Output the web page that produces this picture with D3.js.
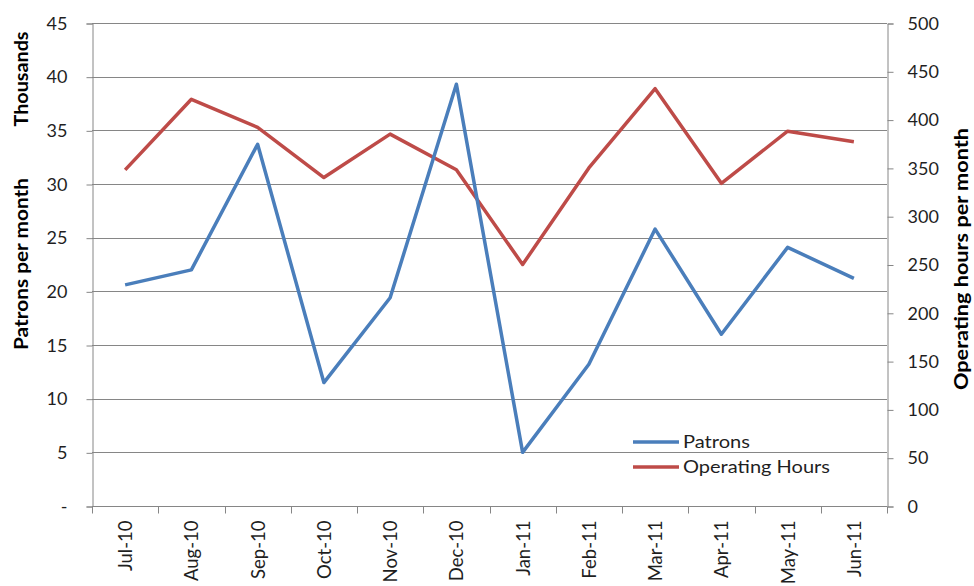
<!DOCTYPE html>
<html>
<head>
<meta charset="utf-8">
<script src="https://cdn.jsdelivr.net/npm/d3@7"></script>
<style>
  body { margin: 0; background: #fff; }
  text { font-family: Lato, "Open Sans", sans-serif; }
</style>
</head>
<body>
<script>
var width = 974
var height = 586

// data
var months = ["Jul-10", "Aug-10", "Sep-10", "Oct-10", "Nov-10", "Dec-10",
              "Jan-11", "Feb-11", "Mar-11", "Apr-11", "May-11", "Jun-11"]
var patrons = [20.6, 22.0, 33.7, 11.5, 19.4, 39.3, 5.0, 13.2, 25.8, 16.0, 24.1, 21.2]
var hours = [348, 421, 392, 340, 385, 348, 250, 350, 432, 334, 388, 377]
var leftTicks = [0, 5, 10, 15, 20, 25, 30, 35, 40, 45]
var rightTicks = [0, 50, 100, 150, 200, 250, 300, 350, 400, 450, 500]

var blue = "#4a7ebb"
var red = "#be4b48"
var grid = "#868686"
var ink = "#1f1f1f"

var m = {left: 92, right: 974 - 887, top: 23, bottom: 586 - 506}

var svg = d3.select("body").append("svg")
    .attr("width", width)
    .attr("height", height)

var x = d3.scaleBand().domain(months).range([m.left, width - m.right])
var yL = d3.scaleLinear().domain([0, 45]).range([height - m.bottom, m.top])
var yR = d3.scaleLinear().domain([0, 500]).range([height - m.bottom, m.top])

// gridlines
svg.append("g").selectAll("line")
    .data(leftTicks)
    .enter().append("line")
    .attr("x1", m.left).attr("x2", width - m.right)
    .attr("y1", function(d) { return Math.round(yL(d)) + 0.5 })
    .attr("y2", function(d) { return Math.round(yL(d)) + 0.5 })
    .attr("stroke", grid)
    .attr("stroke-width", 1)

// left axis
var leftAxis = svg.append("g")
    .attr("transform", "translate(" + (m.left + 0.5) + ",0.5)")
    .call(d3.axisLeft(yL).tickValues(leftTicks).tickSize(6).tickPadding(19)
        .tickFormat(function(d) { return d === 0 ? "-" : d }))
leftAxis.selectAll("line,path").attr("stroke", grid)
leftAxis.selectAll("text").style("font-size", "18px").attr("fill", ink)

// right axis
var rightAxis = svg.append("g")
    .attr("transform", "translate(" + (width - m.right + 0.5) + ",0.5)")
    .call(d3.axisRight(yR).tickValues(rightTicks).tickSize(6).tickPadding(14))
rightAxis.selectAll("line,path").attr("stroke", grid)
rightAxis.selectAll("text").style("font-size", "18px").attr("fill", ink)

// bottom axis, ticks at category boundaries
var xb = svg.append("g")
    .attr("transform", "translate(0," + (Math.round(yL(0)) + 0.5) + ")")
xb.append("line")
    .attr("x1", m.left).attr("x2", width - m.right)
    .attr("stroke", grid)
xb.selectAll(".bt")
    .data(months.concat(["end"]))
    .enter().append("line")
    .attr("x1", function(d, i) { return Math.round(m.left + i * x.bandwidth()) + 0.5 })
    .attr("x2", function(d, i) { return Math.round(m.left + i * x.bandwidth()) + 0.5 })
    .attr("y1", 0).attr("y2", 7)
    .attr("stroke", grid)
xb.selectAll("text")
    .data(months)
    .enter().append("text")
    .attr("transform", function(d) {
        return "translate(" + (x(d) + x.bandwidth() / 2 + 7) + ",14) rotate(-90)"
    })
    .attr("text-anchor", "end")
    .style("font-size", "18.5px")
    .attr("fill", ink)
    .text(function(d) { return d })

// lines
var lineL = d3.line()
    .x(function(d, i) { return x(months[i]) + x.bandwidth() / 2 })
    .y(function(d) { return yL(d) })
var lineR = d3.line()
    .x(function(d, i) { return x(months[i]) + x.bandwidth() / 2 })
    .y(function(d) { return yR(d) })

svg.append("path").datum(hours)
    .attr("d", lineR)
    .attr("fill", "none")
    .attr("stroke", red)
    .attr("stroke-width", 3.5)
    .attr("stroke-linejoin", "round")

svg.append("path").datum(patrons)
    .attr("d", lineL)
    .attr("fill", "none")
    .attr("stroke", blue)
    .attr("stroke-width", 3.5)
    .attr("stroke-linejoin", "round")

// axis titles
function axisTitle(tx, ty, label, len) {
    svg.append("text")
        .attr("transform", "translate(" + tx + "," + ty + ") rotate(-90)")
        .attr("text-anchor", "middle")
        .attr("textLength", len)
        .attr("lengthAdjust", "spacingAndGlyphs")
        .style("font-size", "19px").style("font-weight", "bold")
        .attr("fill", "#000")
        .text(label)
}
axisTitle(28, 264, "Patrons per month", 172)
axisTitle(28, 79, "Thousands", 95)
axisTitle(968, 259, "Operating hours per month", 262)

// legend
var legendItems = [{name: "Patrons", color: blue, len: 67},
                   {name: "Operating Hours", color: red, len: 147}]
var lg = svg.append("g").attr("transform", "translate(633,442)")
lg.selectAll("line")
    .data(legendItems)
    .enter().append("line")
    .attr("x1", 0).attr("x2", 46)
    .attr("y1", function(d, i) { return i * 25 })
    .attr("y2", function(d, i) { return i * 25 })
    .attr("stroke", function(d) { return d.color })
    .attr("stroke-width", 3.5)
lg.selectAll("text")
    .data(legendItems)
    .enter().append("text")
    .attr("x", 50)
    .attr("y", function(d, i) { return i * 25 + 6 })
    .attr("textLength", function(d) { return d.len })
    .attr("lengthAdjust", "spacingAndGlyphs")
    .style("font-size", "18px")
    .attr("fill", ink)
    .text(function(d) { return d.name })
</script>
</body>
</html>
